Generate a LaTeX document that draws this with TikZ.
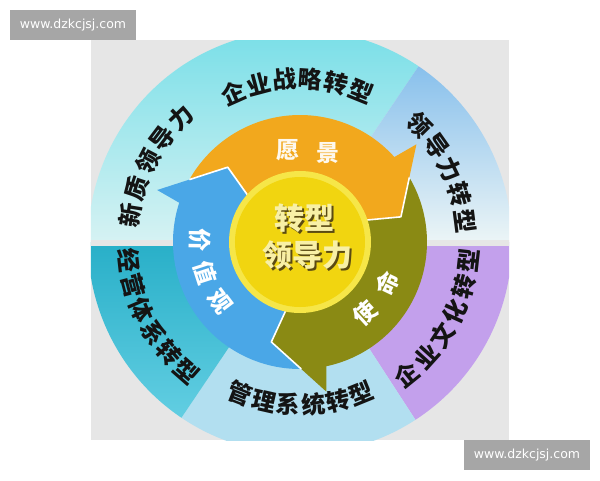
\documentclass[tikz,border=0pt]{standalone}
\usepackage{fontspec}
\newfontfamily\cjk{Noto Sans CJK SC}
\newfontfamily\wmfont{DejaVu Sans}
\usetikzlibrary{calc}
\definecolor{panel}{HTML}{E6E6E6}
\definecolor{wmgray}{HTML}{A6A6A6}
\definecolor{cyanA}{HTML}{6CDCE6}
\definecolor{cyanB}{HTML}{D6F2F3}
\definecolor{bluA}{HTML}{88C0EC}
\definecolor{bluB}{HTML}{ECF5F6}
\definecolor{tealA}{HTML}{28AFC8}
\definecolor{tealB}{HTML}{62CEE2}
\definecolor{lblue}{HTML}{B2DFF0}
\definecolor{purp}{HTML}{C3A0EC}
\definecolor{orangeA}{HTML}{F2A81D}
\definecolor{oliveA}{HTML}{8A8A14}
\definecolor{blueA}{HTML}{4AA7E7}
\definecolor{yrim}{HTML}{F6E648}
\definecolor{ycore}{HTML}{F1D510}
\definecolor{ctext}{HTML}{F8F0A6}
\definecolor{cshadow}{HTML}{5A4A12}
\tikzset{
  ringlab/.style={font=\cjk\bfseries\fontsize{24}{24}\selectfont, text=black!92, inner sep=0pt},
  arrlab/.style={font=\cjk\bfseries\fontsize{23}{23}\selectfont, text=white, inner sep=0pt},
  ctrlab/.style={font=\cjk\bfseries\fontsize{30}{30}\selectfont, inner sep=0pt},
  wmbox/.style={fill=wmgray, minimum width=126pt, minimum height=30pt, inner sep=0pt, text=white, font=\wmfont\fontsize{12.5}{12.5}\selectfont},
  sepline/.style={draw=white, line width=1.6pt, line join=round}
}
\begin{document}
\begin{tikzpicture}[x=1pt,y=1pt]
\useasboundingbox (-300,-238) rectangle (300,242);
\fill[white] (-300,-238) rectangle (300,242);
% panel
\fill[panel] (-209,-198) rectangle (209,202);
\begin{scope}
\clip (-209,-198) rectangle (209,202);
% outer ring sectors
\shade[top color=cyanA, bottom color=cyanB] (0,0) -- (56:212) arc[start angle=56, end angle=180, radius=212] -- cycle;
\shade[top color=bluA, bottom color=bluB] (0,0) -- (0:212) arc[start angle=0, end angle=56, radius=212] -- cycle;
\fill[purp] (0,0) -- (-57:212) arc[start angle=-57, end angle=0, radius=212] -- cycle;
\fill[lblue] (0,0) -- (-124:212) arc[start angle=-124, end angle=-57, radius=212] -- cycle;
\shade[top color=tealA, bottom color=tealB] (0,0) -- (180:212) arc[start angle=180, end angle=236, radius=212] -- cycle;
% gaps
\fill[panel] (-215,-4) rectangle (215,2);
\end{scope}
% arrows
\foreach \p/\col in {40/orangeA, -80/oliveA, 160/blueA}{
  \fill[\col] ({\p+110.57}:127) arc[start angle={\p+110.57}, end angle={\p+2}, radius=127]
     -- (\p:152) -- ({\p-26}:104) -- ({\p-19}:58)
     arc[start angle={\p-19}, end angle={\p+101}, radius=58]
     -- ({\p+94}:104) -- cycle;
}
\foreach \p in {40,-80,160}{
  \draw[sepline] ({\p+110.57}:127) -- ({\p+94}:104) -- ({\p+101}:58);
}
% centre
\fill[yrim] (0,0) circle (71);
\fill[ycore] (0,0) circle (65);
\node[ctrlab, text=cshadow] (c1s) at (6.8,22.2) {转型};
\node[ctrlab, text=ctext] (c1) at (5,24) {转型};
\node[ctrlab, text=cshadow] (c2s) at (9.8,-14.8) {领导力};
\node[ctrlab, text=ctext] (c2) at (8,-13) {领导力};
% arrow labels
\node[arrlab, text=white!92!orangeA] (v1) at (97.4:93) {愿};
\node[arrlab, text=white!92!orangeA] (v2) at (72.7:93) {景};
\foreach \c [count=\i] in {价,值,观}
  \node[arrlab, rotate={179+(\i-1)*19+90}] (j\i) at ({179+(\i-1)*19}:100) {\c};
\foreach \c [count=\i] in {使,命}
  \node[arrlab, rotate={-47.5+(\i-1)*22+90}] (s\i) at ({-47.5+(\i-1)*22}:97) {\c};
% outer labels
\foreach \c [count=\i] in {企,业,战,略,转,型}
  \node[ringlab, rotate={114-(\i-1)*9.2-90}] (a\i) at ({114-(\i-1)*9.2}:163) {\c};
\foreach \c [count=\i] in {新,质,领,导,力}
  \node[ringlab, rotate={171-(\i-1)*9.35-90}] (b\i) at ({171-(\i-1)*9.35}:172) {\c};
\foreach \c [count=\i] in {领,导,力,转,型}
  \node[ringlab, rotate={44.5-(\i-1)*9.3-90}] (d\i) at ({44.5-(\i-1)*9.3}:167) {\c};
\foreach \c [count=\i] in {企,业,文,化,转,型}
  \node[ringlab, rotate={-51+(\i-1)*8.92+90}] (e\i) at ({-51+(\i-1)*8.92}:170) {\c};
\foreach \c [count=\i] in {管,理,系,统,转,型}
  \node[ringlab, rotate={-111.5+(\i-1)*8.74+90}] (f\i) at ({-111.5+(\i-1)*8.74}:163) {\c};
\foreach \c [count=\i] in {经,营,体,系,转,型}
  \node[ringlab, rotate={186.3+(\i-1)*8.5+90}] (g\i) at ({186.3+(\i-1)*8.5}:172) {\c};
% watermarks
\node[wmbox] (wm1) at (-227,217) {www.dzkcjsj.com};
\node[wmbox] (wm2) at (227,-213) {www.dzkcjsj.com};
\end{tikzpicture}
\end{document}
